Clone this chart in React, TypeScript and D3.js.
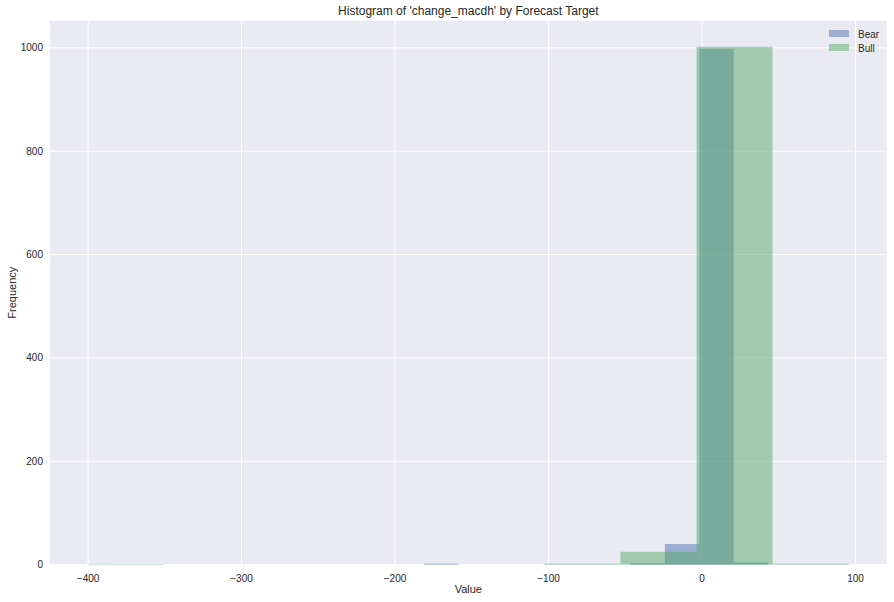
import React from "react";
import * as d3 from "d3";

const bearEdges = { min: -181, max: 43, bins: 10 };
const bearCounts = [2, 0, 0, 0, 0, 0, 3, 40, 998, 4];
const bullEdges = { min: -400, max: 95.5, bins: 10 };
const bullCounts = [1, 0, 0, 0, 0, 0, 2, 25, 1002, 2];
const xTicks = [-400, -300, -200, -100, 0, 100];
const yTicks = [0, 200, 400, 600, 800, 1000];
const seriesNames = ["Bear", "Bull"];
const seriesColors = ["#4C72B0", "#55A868"];

const W = 894, H = 602;
const M = { left: 50, right: 7.3, top: 20.7, bottom: 37.3 };

export default function App() {
  const x = d3.scaleLinear().domain([-424.8, 120.3]).range([M.left, W - M.right]);
  const y = d3.scaleLinear().domain([0, 1052.5]).range([H - M.bottom, M.top]);
  const series = [
    { e: bearEdges, c: bearCounts },
    { e: bullEdges, c: bullCounts },
  ];
  const font = "'Liberation Sans', Arial, sans-serif";
  return (
    <svg width={W} height={H} style={{ position: "absolute", left: 0, top: 0, fontFamily: font }}>
      <rect x={0} y={0} width={W} height={H} fill="#fff" />
      <rect x={M.left} y={M.top} width={W - M.left - M.right} height={H - M.top - M.bottom} fill="#EAEAF2" />
      {xTicks.map((t) => (
        <line key={"gx" + t} x1={x(t)} x2={x(t)} y1={M.top} y2={H - M.bottom} stroke="#fff" strokeWidth={1} />
      ))}
      {yTicks.map((t) => (
        <line key={"gy" + t} x1={M.left} x2={W - M.right} y1={y(t)} y2={y(t)} stroke="#fff" strokeWidth={1} />
      ))}
      {series.map((s, si) => {
        const w = (s.e.max - s.e.min) / s.e.bins;
        return (
          <g key={si}>
            {s.c.map((c, i) =>
              c > 0 ? (
                <rect
                  key={i}
                  x={x(s.e.min + i * w)}
                  y={y(c)}
                  width={x(s.e.min + (i + 1) * w) - x(s.e.min + i * w)}
                  height={y(0) - y(c)}
                  fill={seriesColors[si]}
                  fillOpacity={0.5}
                />
              ) : null
            )}
          </g>
        );
      })}
      {xTicks.map((t) => (
        <text key={"tx" + t} x={x(t)} y={H - M.bottom + 17} textAnchor="middle" fontSize={10} fill="#262626">
          {t < 0 ? "\u2212" + Math.abs(t) : t}
        </text>
      ))}
      {yTicks.map((t) => (
        <text key={"ty" + t} x={M.left - 7} y={y(t) + 3.5} textAnchor="end" fontSize={10} fill="#262626">
          {t}
        </text>
      ))}
      <text x={(M.left + W - M.right) / 2} y={15} textAnchor="middle" fontSize={12} fill="#262626">
        Histogram of 'change_macdh' by Forecast Target
      </text>
      <text x={(M.left + W - M.right) / 2} y={593} textAnchor="middle" fontSize={11} fill="#262626">
        Value
      </text>
      <text transform={`translate(16,${(M.top + H - M.bottom) / 2}) rotate(-90)`} textAnchor="middle" fontSize={11} fill="#262626">
        Frequency
      </text>
      {seriesNames.map((n, i) => (
        <g key={n}>
          <rect x={829} y={30 + i * 14} width={20} height={7} fill={seriesColors[i]} fillOpacity={0.5} />
          <text x={858} y={37.5 + i * 14} fontSize={10} fill="#262626">{n}</text>
        </g>
      ))}
    </svg>
  );
}
